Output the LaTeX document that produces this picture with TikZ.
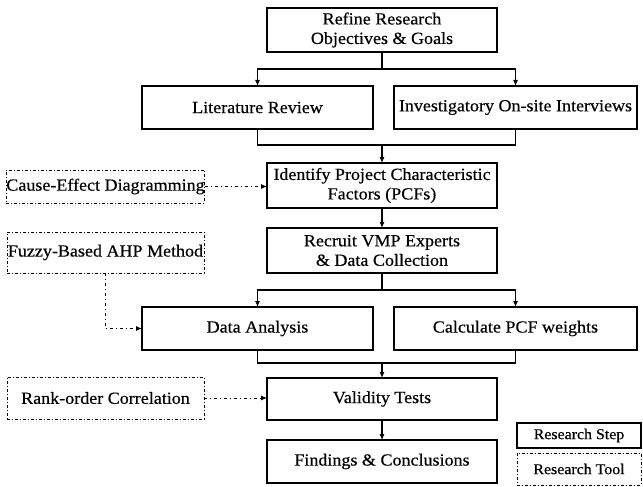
\documentclass[tikz,border=0pt]{standalone}
\usepackage{fontspec}
\setmainfont{Liberation Serif}[FakeStretch=1.06,FakeBold=0.4]
\usetikzlibrary{arrows.meta,calc}
\begin{document}
\begin{tikzpicture}[x=1pt,y=-1pt,
  stepbox/.style={draw,line width=2.4pt,inner sep=0pt,outer sep=0pt,align=center,
    font=\fontsize{17}{19.5}\selectfont},
  toolbox/.style={draw,line width=0.9pt,dash pattern=on 3pt off 2pt on 1pt off 2pt,
    inner sep=0pt,outer sep=0pt,align=center,font=\fontsize{17}{19.5}\selectfont},
  conn/.style={line width=1.1pt},
  arr/.style={conn,-{Latex[length=6pt,width=5pt]}},
  tarr/.style={line width=0.9pt,dash pattern=on 3pt off 3pt on 1pt off 3pt,
    -{Latex[length=6pt,width=5pt]}},
  legstep/.style={draw,line width=1.8pt,inner sep=0pt,outer sep=0pt,
    font=\fontsize{15}{17}\selectfont},
  legtool/.style={draw,line width=0.9pt,dash pattern=on 3pt off 2pt on 1pt off 2pt,
    inner sep=0pt,outer sep=0pt,font=\fontsize{15}{17}\selectfont}
]
\useasboundingbox (0,0) rectangle (643,487);

\node[stepbox,minimum width=230,minimum height=44] (top) at (382,30)
  {Refine Research\\Objectives \& Goals};
\node[stepbox,minimum width=231,minimum height=43] (lit) at (257.5,107.5) {Literature Review};
\node[stepbox,minimum width=243,minimum height=43] (inv) at (515.5,107.5) {Investigatory On-site Interviews};
\node[stepbox,minimum width=230,minimum height=45] (ident) at (382,185.5)
  {Identify Project Characteristic\\Factors (PCFs)};
\node[toolbox,minimum width=197,minimum height=33] (cause) at (105.5,186.5) {Cause-Effect Diagramming};
\node[stepbox,minimum width=230,minimum height=45] (recruit) at (382,250.5)
  {Recruit VMP Experts\\\& Data Collection};
\node[toolbox,minimum width=197,minimum height=41] (fuzzy) at (105.5,252.5) {Fuzzy-Based AHP Method};
\node[stepbox,minimum width=231,minimum height=43] (data) at (257.5,328.5) {Data Analysis};
\node[stepbox,minimum width=243,minimum height=43] (calc) at (515.5,328.5) {Calculate PCF weights};
\node[stepbox,minimum width=230,minimum height=42] (valid) at (382,399) {Validity Tests};
\node[toolbox,minimum width=197,minimum height=42] (rank) at (105.5,398) {Rank-order Correlation};
\node[stepbox,minimum width=230,minimum height=43] (find) at (382,461.5) {Findings \& Conclusions};
\node[legstep,minimum width=124,minimum height=25] (lstep) at (579,435.5) {Research Step};
\node[legtool,minimum width=124,minimum height=32] (ltool) at (579,469) {Research Tool};

\coordinate (b1) at (382,69);
\coordinate (j1) at (382,145);
\coordinate (b2) at (382,290);
\coordinate (j2) at (382,363);

\draw[conn] (top.south) -- (b1);
\draw[arr] (b1) -| (lit.north);
\draw[arr] (b1) -| (inv.north);
\draw[conn] (lit.south) |- (j1);
\draw[conn] (inv.south) |- (j1);
\draw[arr] (j1) -- (ident.north);
\draw[arr] (ident.south) -- (recruit.north);
\draw[conn] (recruit.south) -- (b2);
\draw[arr] (b2) -| (data.north);
\draw[arr] (b2) -| (calc.north);
\draw[conn] (data.south) |- (j2);
\draw[conn] (calc.south) |- (j2);
\draw[arr] (j2) -- (valid.north);
\draw[arr] (valid.south) -- (find.north);

\draw[tarr] (cause.east) -- (cause.east -| ident.west);
\draw[tarr] (fuzzy.south) |- (data.west);
\draw[tarr] (rank.east) -- (rank.east -| valid.west);
\end{tikzpicture}
\end{document}
